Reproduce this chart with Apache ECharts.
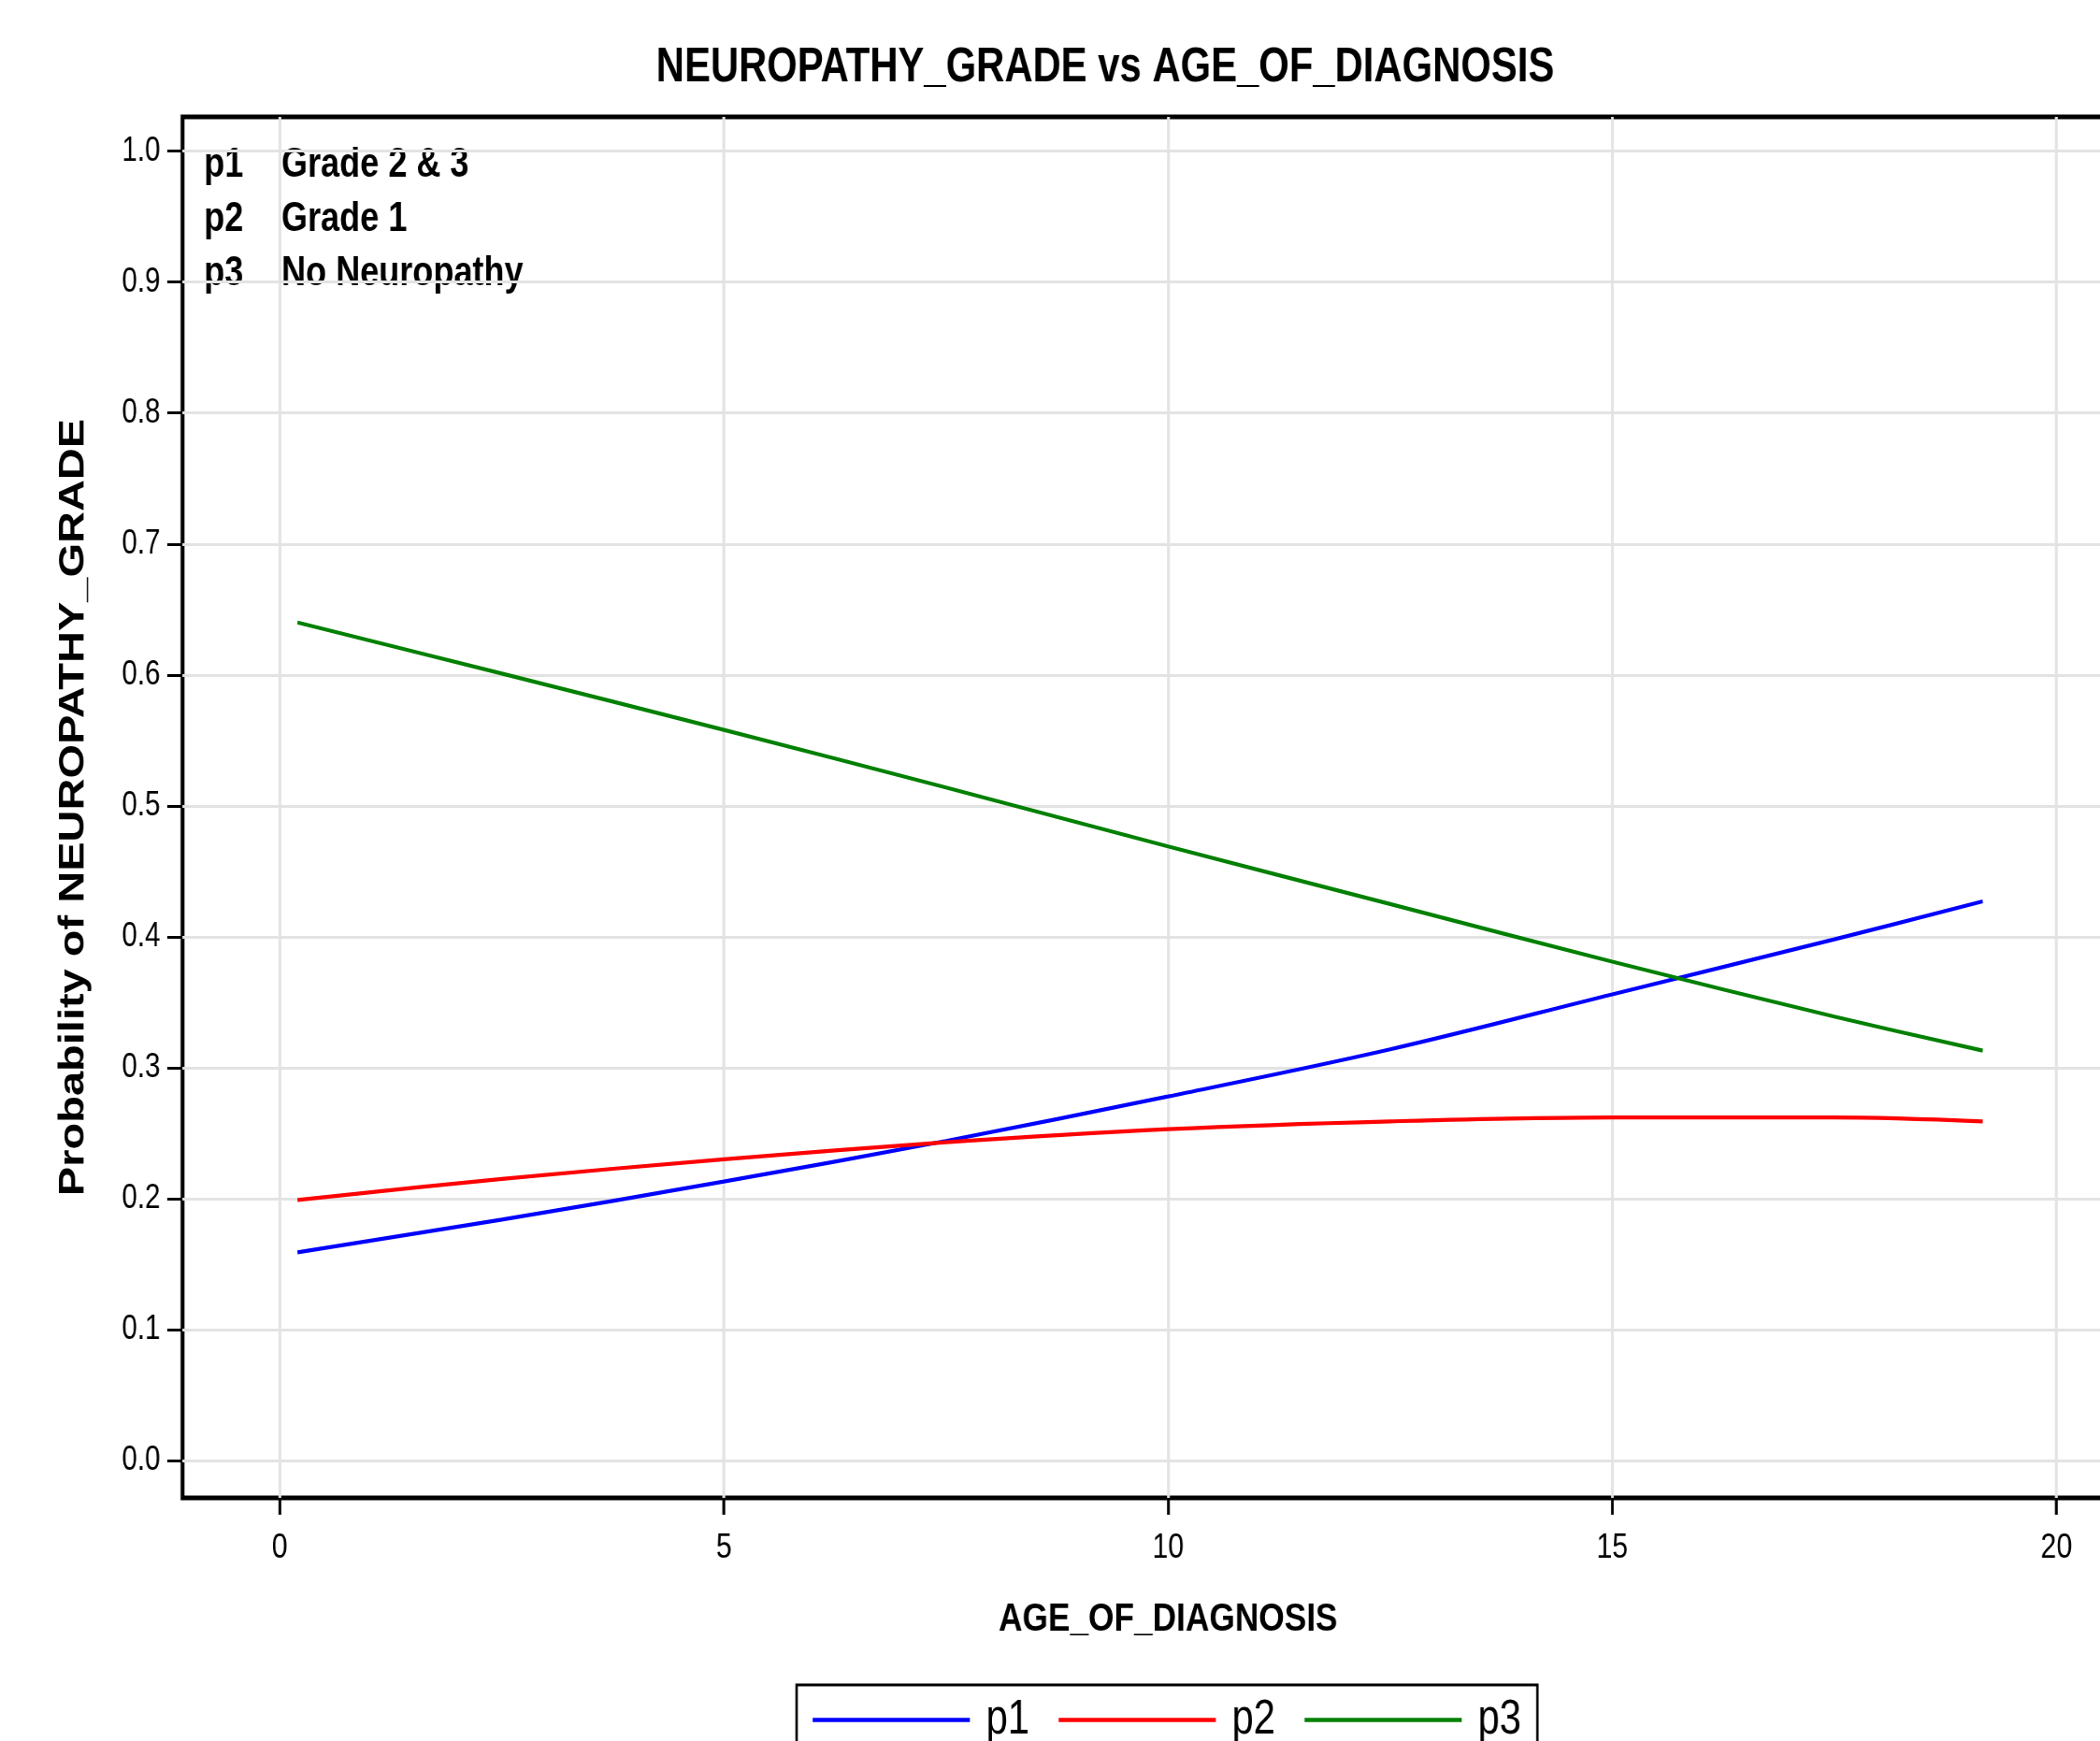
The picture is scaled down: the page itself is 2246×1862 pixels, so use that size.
<!DOCTYPE html>
<html lang="en">
<head>
    <meta charset="UTF-8">
    <title>NEUROPATHY_GRADE vs AGE_OF_DIAGNOSIS</title>
    <style>
        html, body { margin: 0; padding: 0; background: #fff; overflow: hidden; }
        /* the source graphic is squeezed sideways, so draw wide and squeeze */
        #main { width: 2883px; height: 1862px; transform: scaleX(0.82); transform-origin: 0 0; }
    </style>
</head>
<body>
<div id="main"></div>
<script src="https://cdn.jsdelivr.net/npm/echarts@6/dist/echarts.min.js"></script>
<script>
    // values
    var ageValues = [0.2, 2.5, 5, 7.5, 10, 12.5, 15, 17.5, 19.17];
    var p1Values = [0.159, 0.184, 0.213, 0.244, 0.278, 0.314, 0.356, 0.398, 0.427];
    var p2Values = [0.199, 0.215, 0.230, 0.243, 0.253, 0.259, 0.262, 0.262, 0.259];
    var p3Values = [0.640, 0.601, 0.558, 0.514, 0.469, 0.425, 0.381, 0.339, 0.313];

    var seriesNames = ['p1', 'p2', 'p3'];
    var seriesLabels = ['Grade 2 & 3', 'Grade 1', 'No Neuropathy'];
    var seriesColors = ['#0000ff', '#ff0000', '#008000'];

    var xTicks = [0, 5, 10, 15, 20];
    var yTicks = [0, 0.1, 0.2, 0.3, 0.4, 0.5, 0.6, 0.7, 0.8, 0.9, 1.0];

    var SX = 0.82;   // horizontal squeeze applied by css
    var font = '"Liberation Sans", Arial, sans-serif';

    function px(x) { return Math.round(x / SX); }

    function pairs(xs, ys) {
        var out = [];
        for (var i = 0; i < xs.length; i++) {
            out.push([xs[i], ys[i]]);
        }
        return out;
    }

    var allValues = [p1Values, p2Values, p3Values];
    var series = [];
    for (var i = 0; i < seriesNames.length; i++) {
        series.push({
            name: seriesNames[i],
            type: 'line',
            data: pairs(ageValues, allValues[i]),
            smooth: 0.35,
            symbol: 'none',
            lineStyle: { color: seriesColors[i], width: 4.2 },
            itemStyle: { color: seriesColors[i] }
        });
    }

    // inset key in the upper left corner of the plot
    var insetKey = [];
    for (var j = 0; j < seriesNames.length; j++) {
        insetKey.push({
            type: 'text', x: px(218), y: 177 + j * 58,
            style: { text: seriesNames[j], fill: '#000', fontFamily: font, fontWeight: 'bold', fontSize: 44, verticalAlign: 'middle' }
        });
        insetKey.push({
            type: 'text', x: px(301), y: 177 + j * 58,
            style: { text: seriesLabels[j], fill: '#000', fontFamily: font, fontWeight: 'bold', fontSize: 44, verticalAlign: 'middle' }
        });
    }

    var myChart = echarts.init(document.getElementById('main'));
    var option = {
        backgroundColor: '#fff',
        animation: false,
        title: {
            text: 'NEUROPATHY_GRADE vs AGE_OF_DIAGNOSIS',
            left: 'center',
            top: 42,
            textStyle: { fontFamily: font, fontWeight: 'bold', fontSize: 51, color: '#000' }
        },
        grid: {
            left: px(195), right: px(61), top: 125, bottom: 260,
            show: true,
            borderColor: '#000',
            borderWidth: 5,
            backgroundColor: '#fff'
        },
        legend: {
            data: seriesNames,
            left: px(852),
            top: 1802,
            padding: [12, px(17), 12, px(17)],
            icon: 'rect',
            itemWidth: px(168),
            itemHeight: 4.5,
            itemGap: px(31),
            borderColor: '#000',
            borderWidth: 3,
            textStyle: { fontFamily: font, fontSize: 51, color: '#000', padding: [0, 0, 0, px(13)] }
        },
        xAxis: {
            type: 'value',
            min: -1.095,
            max: 21.095,
            name: 'AGE_OF_DIAGNOSIS',
            nameLocation: 'middle',
            nameGap: 109,
            nameTextStyle: { fontFamily: font, fontWeight: 'bold', fontSize: 43, color: '#000' },
            axisLine: { show: false, onZero: false },
            axisTick: { show: true, length: 18, customValues: xTicks, lineStyle: { color: '#000', width: 3.6 } },
            axisLabel: { customValues: xTicks, margin: 35, fontFamily: font, fontSize: 37, color: '#000' },
            splitLine: { show: true, lineStyle: { color: '#e3e3e3', width: 3.6 } }
        },
        yAxis: {
            type: 'value',
            min: -0.0286,
            max: 1.0262,
            name: 'Probability of NEUROPATHY_GRADE',
            nameLocation: 'middle',
            nameGap: 118,
            nameTextStyle: { fontFamily: font, fontWeight: 'bold', fontSize: 47, color: '#000' },
            axisLine: { show: false, onZero: false },
            axisTick: { show: true, length: px(16), customValues: yTicks, lineStyle: { color: '#000', width: 3 } },
            axisLabel: {
                customValues: yTicks, margin: px(24), fontFamily: font, fontSize: 36, color: '#000',
                formatter: function (v) { return v.toFixed(1); }
            },
            splitLine: { show: true, lineStyle: { color: '#e3e3e3', width: 3 } }
        },
        graphic: insetKey,
        series: series
    };
    myChart.setOption(option);
</script>
</body>
</html>
